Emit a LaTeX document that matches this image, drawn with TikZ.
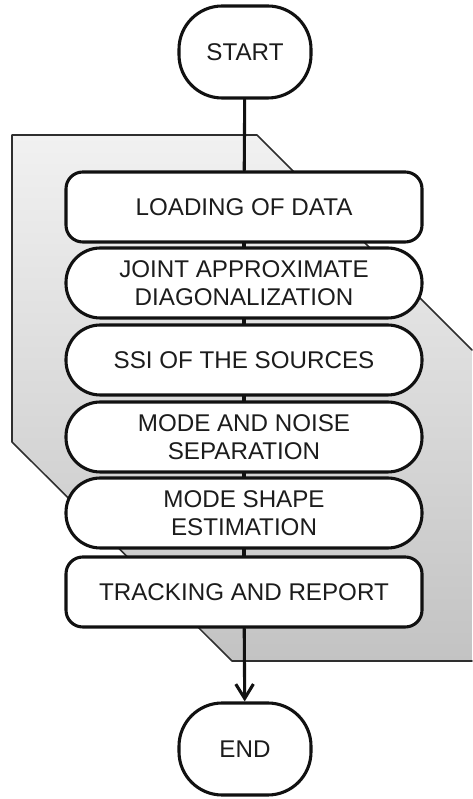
\documentclass[tikz,border=0pt]{standalone}
\usepackage{fontspec}
\setmainfont{Liberation Sans}
\usepackage{xcolor}
\usepackage{tikz}
\usetikzlibrary{arrows.meta,positioning}
\definecolor{ink}{HTML}{1C1C1C}
\definecolor{frame}{HTML}{111111}
\definecolor{panelline}{HTML}{2E2E2E}
\definecolor{paneltop}{HTML}{F1F1F1}
\definecolor{panelbot}{HTML}{C3C3C3}
\tikzset{
    every picture/.style={line cap=round,line join=round},
    termnode/.style={draw=frame,fill=white,line width=2.2pt,rounded corners=1.08cm,
      minimum width=3.3cm,minimum height=2.3cm,inner sep=2pt,
      text=ink,font=\fontsize{17.2}{19.9}\selectfont,align=center},
    procbox/.style={draw=frame,fill=white,line width=2.2pt,rounded corners=0.42cm,
      minimum width=8.9cm,minimum height=1.75cm,inner sep=2pt,
      text=ink,font=\fontsize{17.2}{19.9}\selectfont,align=center},
    procround/.style={procbox,rounded corners=0.86cm},
    flowline/.style={draw=frame,line width=2.2pt},
    panel/.style={draw=panelline,line width=1.1pt}
}

\begin{document}
\begin{tikzpicture}
  \useasboundingbox (0,0) rectangle (11.8,19.975);
  % grey panel behind the steps
  \shade[top color=paneltop,bottom color=panelbot]
    (0.3,16.6)--(6.425,16.6)--(11.8,11.225)--(11.8,3.45)--(5.8,3.45)--(0.3,8.925)--cycle;
  \draw[panel] (11.8,3.45)--(5.8,3.45)--(0.3,8.925)--(0.3,16.6)--(6.425,16.6)--(11.8,11.225);
  % steps
  \node[termnode] (st) at (6.125,18.675){START};
  \node[procbox] (p1) at (6.1,14.8){LOADING OF DATA};
  \node[procround] (p2) at (6.1,12.9){JOINT APPROXIMATE\\DIAGONALIZATION};
  \node[procround] (p3) at (6.1,10.975){SSI OF THE SOURCES};
  \node[procround] (p4) at (6.1,9.05){MODE AND NOISE\\SEPARATION};
  \node[procround] (p5) at (6.1,7.15){MODE SHAPE\\ESTIMATION};
  \node[procbox] (p6) at (6.1,5.175){TRACKING AND REPORT};
  \node[termnode] (en) at (6.125,1.25){END};
  \foreach \a/\b in {st/p1,p1/p2,p2/p3,p3/p4,p4/p5,p5/p6}
    \draw[flowline] (\a)--(\b);
  \draw[flowline,-{Straight Barb[length=3.6mm,width=4.4mm]}] (p6)--(en);
\end{tikzpicture}
\end{document}
